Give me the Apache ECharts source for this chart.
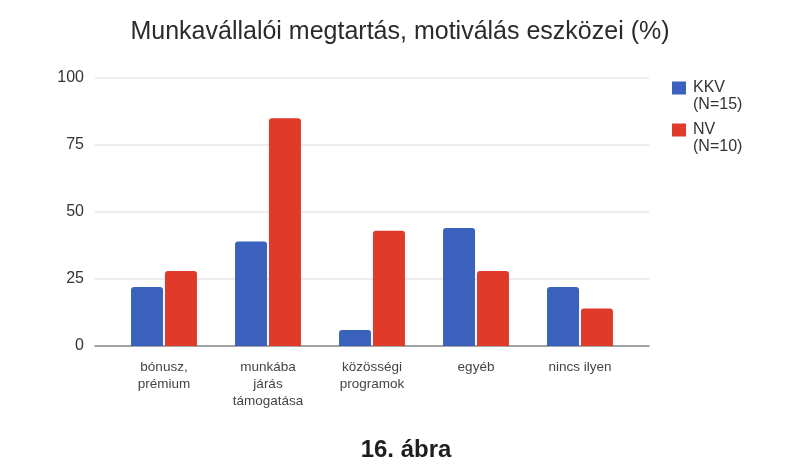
<!DOCTYPE html>
<html>
<head>
<meta charset="utf-8">
<script src="https://cdn.jsdelivr.net/npm/echarts@6/dist/echarts.min.js"></script>
<style>
  html, body { margin: 0; padding: 0; background: #fff; }
  #chart { width: 806px; height: 474px; }
</style>
</head>
<body>
<div id="chart"></div>
<script>
var categories = ['bónusz,\nprémium', 'munkába\njárás\ntámogatása', 'közösségi\nprogramok', 'egyéb', 'nincs ilyen'];
var kkvValues = [22, 39, 6, 44, 22];
var nvValues = [28, 85, 43, 28, 14];
var seriesNames = ['KKV', 'NV'];
var seriesNotes = ['(N=15)', '(N=10)'];
var yTicks = [0, 25, 50, 75, 100];

var FONT = 'Liberation Sans, Arial, sans-serif';

var chart = echarts.init(document.getElementById('chart'));
var option = {
    backgroundColor: '#ffffff',
    animation: false,
    title: [{
        text: 'Munkavállalói megtartás, motiválás eszközei (%)',
        left: 395, top: 15, textAlign: 'center',
        textStyle: { fontFamily: FONT, fontSize: 25, fontWeight: 'normal', color: '#2b2b2b' }
    }, {
        text: '16. ábra',
        left: 401, top: 433, textAlign: 'center',
        textStyle: { fontFamily: FONT, fontSize: 24, fontWeight: 'bold', color: '#1e1e1e' }
    }],
    legend: {
        orient: 'vertical',
        left: 672, top: 80, padding: 0,
        itemWidth: 14, itemHeight: 13, itemGap: 26, itemStyle: { borderWidth: 0 },
        icon: 'rect',
        data: seriesNames,
        textStyle: { fontFamily: FONT, fontSize: 16, lineHeight: 16, color: '#333', padding: [0, 0, 0, 2] }
    },
    graphic: [{
        type: 'text', left: 693, top: 97,
        style: { text: seriesNotes[0], fontFamily: FONT, fontSize: 16, fill: '#333' }
    }, {
        type: 'text', left: 693, top: 139,
        style: { text: seriesNotes[1], fontFamily: FONT, fontSize: 16, fill: '#333' }
    }],
    grid: [
        // bars
        { left: 112, right: 174, top: 78, bottom: 128 },
        // gridlines spanning wider
        { left: 95, right: 157, top: 78, bottom: 128 }
    ],
    xAxis: [{
        type: 'category', gridIndex: 0, data: categories,
        axisLine: { show: false }, axisTick: { show: false },
        axisLabel: { fontFamily: FONT, fontSize: 13.5, lineHeight: 17, color: '#444', margin: 13, interval: 0 }
    }, {
        type: 'value', gridIndex: 1, min: 0, max: 1, show: true,
        axisLabel: { show: false }, axisTick: { show: false }, splitLine: { show: false },
        axisLine: { show: true, lineStyle: { color: '#8a8a8a', width: 1.5 } }
    }],
    yAxis: [{
        type: 'value', gridIndex: 0, min: 0, max: 100, interval: 25,
        axisLabel: { show: false }, splitLine: { show: false },
        axisLine: { show: false }, axisTick: { show: false }
    }, {
        type: 'value', gridIndex: 1, min: yTicks[0], max: yTicks[yTicks.length - 1], interval: 25,
        axisLine: { show: false }, axisTick: { show: false },
        axisLabel: { fontFamily: FONT, fontSize: 16, color: '#333', margin: 11 },
        splitLine: { lineStyle: { color: '#e6e6e6', width: 1.5 } }
    }],
    series: [{
        name: seriesNames[0], type: 'bar', xAxisIndex: 0, yAxisIndex: 0,
        data: kkvValues, barWidth: 32, barGap: '6%',
        itemStyle: { color: '#3a62bd', borderRadius: [3, 3, 0, 0] }
    }, {
        name: seriesNames[1], type: 'bar', xAxisIndex: 0, yAxisIndex: 0,
        data: nvValues, barWidth: 32,
        itemStyle: { color: '#e03a2b', borderRadius: [3, 3, 0, 0] }
    }]
};
chart.setOption(option);
</script>
</body>
</html>
